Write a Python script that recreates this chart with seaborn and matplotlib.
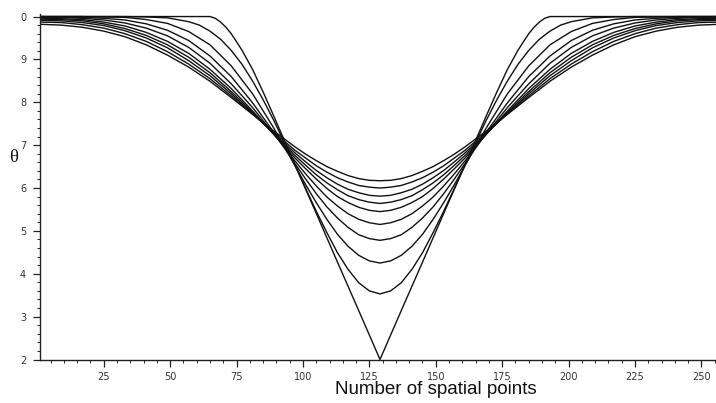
import matplotlib
matplotlib.use("Agg")
import matplotlib.pyplot as plt
import numpy as np
import pandas as pd
import seaborn as sns
from matplotlib.ticker import FixedLocator, MultipleLocator

# ---- profiles of theta along the spatial grid -------------------------------
# initial profile (flat at 10 with a V-shaped notch around point 129)
x_t0 = [1, 65, 67, 69, 71, 73, 77, 81, 85, 89, 97, 105, 113, 121, 129,
        137, 145, 153, 161, 169, 173, 177, 181, 185, 187, 189, 191, 193, 257]
theta_t0 = [10.0, 10.0, 9.96, 9.87, 9.75, 9.60, 9.22, 8.77, 8.24, 7.68, 6.54, 5.41, 4.27, 3.14, 2.00,
            3.14, 4.27, 5.41, 6.54, 7.68, 8.24, 8.77, 9.22, 9.60, 9.75, 9.87, 9.96, 10.0, 10.0]

# first smoothed profile
x_t1 = [1, 33, 41, 49, 57, 61, 65, 69, 73, 77, 81, 85, 89, 93, 97, 101, 105, 109, 113, 117,
        121, 125, 129, 133, 137, 141, 145, 149, 153, 157, 161, 165, 169, 173, 177, 181, 185,
        189, 193, 197, 201, 209, 217, 225, 257]
theta_t1 = [10.0, 10.0, 9.99, 9.97, 9.88, 9.80, 9.66, 9.47, 9.21, 8.89, 8.50, 8.06, 7.58, 7.06,
            6.53, 5.99, 5.46, 4.96, 4.49, 4.10, 3.79, 3.60, 3.53, 3.60, 3.79, 4.10, 4.49, 4.96,
            5.46, 5.99, 6.53, 7.06, 7.58, 8.06, 8.50, 8.89, 9.21, 9.47, 9.66, 9.80, 9.88, 9.97,
            9.99, 10.0, 10.0]

# later profiles share one grid (denser around the minimum)
x_grid = [1, 9, 17, 25, 33, 41, 49, 57, 65, 73, 81, 89, 97,
          101, 105, 109, 113, 117, 121, 125, 129,
          133, 137, 141, 145, 149, 153, 157, 161,
          169, 177, 185, 193, 201, 209, 217, 225, 233, 241, 249, 257]

theta_t2 = [10.0, 10.0, 10.0, 9.99, 9.98, 9.93, 9.84, 9.65, 9.34, 8.85, 8.20, 7.40, 6.52,
            6.08, 5.66, 5.27, 4.92, 4.64, 4.43, 4.30, 4.25,
            4.30, 4.43, 4.64, 4.92, 5.27, 5.66, 6.08, 6.52,
            7.40, 8.20, 8.85, 9.34, 9.65, 9.84, 9.93, 9.98, 9.99, 10.0, 10.0, 10.0]
theta_t3 = [10.0, 9.99, 9.98, 9.96, 9.92, 9.83, 9.68, 9.44, 9.08, 8.60, 7.99, 7.30, 6.57,
            6.21, 5.87, 5.56, 5.30, 5.08, 4.91, 4.82, 4.78,
            4.82, 4.91, 5.08, 5.30, 5.56, 5.87, 6.21, 6.57,
            7.30, 7.99, 8.60, 9.08, 9.44, 9.68, 9.83, 9.92, 9.96, 9.98, 9.99, 10.0]
theta_t4 = [9.98, 9.98, 9.96, 9.92, 9.85, 9.73, 9.55, 9.28, 8.91, 8.43, 7.88, 7.26, 6.63,
            6.33, 6.05, 5.79, 5.58, 5.40, 5.27, 5.19, 5.15,
            5.19, 5.27, 5.40, 5.58, 5.79, 6.05, 6.33, 6.63,
            7.26, 7.88, 8.43, 8.91, 9.28, 9.55, 9.73, 9.85, 9.92, 9.96, 9.98, 9.98]
theta_t5 = [9.96, 9.95, 9.93, 9.87, 9.78, 9.63, 9.42, 9.14, 8.77, 8.32, 7.80, 7.25, 6.70,
            6.45, 6.21, 5.99, 5.80, 5.66, 5.55, 5.48, 5.45,
            5.48, 5.55, 5.66, 5.80, 5.99, 6.21, 6.45, 6.70,
            7.25, 7.80, 8.32, 8.77, 9.14, 9.42, 9.63, 9.78, 9.87, 9.93, 9.95, 9.96]
theta_t6 = [9.94, 9.93, 9.90, 9.83, 9.72, 9.56, 9.34, 9.05, 8.69, 8.25, 7.77, 7.26, 6.76,
            6.53, 6.31, 6.12, 5.96, 5.82, 5.73, 5.67, 5.64,
            5.67, 5.73, 5.82, 5.96, 6.12, 6.31, 6.53, 6.76,
            7.26, 7.77, 8.25, 8.69, 9.05, 9.34, 9.56, 9.72, 9.83, 9.90, 9.93, 9.94]
theta_t7 = [9.91, 9.90, 9.86, 9.79, 9.67, 9.50, 9.27, 8.97, 8.62, 8.20, 7.74, 7.27, 6.82,
            6.61, 6.41, 6.24, 6.09, 5.97, 5.89, 5.83, 5.81,
            5.83, 5.89, 5.97, 6.09, 6.24, 6.41, 6.61, 6.82,
            7.27, 7.74, 8.20, 8.62, 8.97, 9.27, 9.50, 9.67, 9.79, 9.86, 9.90, 9.91]
theta_t8 = [9.87, 9.86, 9.81, 9.73, 9.60, 9.42, 9.18, 8.89, 8.55, 8.15, 7.73, 7.30, 6.88,
            6.70, 6.52, 6.37, 6.24, 6.14, 6.06, 6.02, 6.00,
            6.02, 6.06, 6.14, 6.24, 6.37, 6.52, 6.70, 6.88,
            7.30, 7.73, 8.15, 8.55, 8.89, 9.18, 9.42, 9.60, 9.73, 9.81, 9.86, 9.87]
theta_t9 = [9.82, 9.80, 9.75, 9.66, 9.53, 9.34, 9.10, 8.82, 8.49, 8.11, 7.72, 7.33, 6.96,
            6.79, 6.64, 6.50, 6.39, 6.29, 6.22, 6.18, 6.17,
            6.18, 6.22, 6.29, 6.39, 6.50, 6.64, 6.79, 6.96,
            7.33, 7.72, 8.11, 8.49, 8.82, 9.10, 9.34, 9.53, 9.66, 9.75, 9.80, 9.82]

y_ticks = [2, 3, 4, 5, 6, 7, 8, 9, 10]
y_tick_labels = ["2", "3", "4", "5", "6", "7", "8", "9", "0"]
x_ticks = [25, 50, 75, 100, 125, 150, 175, 200, 225, 250]
x_tick_labels = ["25", "50", "75", "100", "125", "150", "175", "200", "225", "250"]

# ---- long-form table --------------------------------------------------------
frames = [pd.DataFrame({"x": x_t0, "theta": theta_t0, "step": 0}),
          pd.DataFrame({"x": x_t1, "theta": theta_t1, "step": 1})]
for k, th in enumerate([theta_t2, theta_t3, theta_t4, theta_t5,
                        theta_t6, theta_t7, theta_t8, theta_t9], start=2):
    frames.append(pd.DataFrame({"x": x_grid, "theta": th, "step": k}))
df = pd.concat(frames, ignore_index=True)

# ---- figure -----------------------------------------------------------------
sns.set_style("ticks")
plt.rcParams["font.family"] = ["DejaVu Sans"]

W, H = 716, 403
fig = plt.figure(figsize=(W / 100, H / 100), dpi=100)
ax = fig.add_axes([40 / W, 43.5 / H, (W - 40) / W, (359.5 - 14.4) / H])

n_steps = df["step"].nunique()
sns.lineplot(data=df, x="x", y="theta", hue="step", units="step", estimator=None,
             palette=["#111111"] * n_steps, legend=False, linewidth=1.0, ax=ax)

ax.set_xlim(1, 255.5)
ax.set_ylim(2, 10.05)

for side in ("top", "right"):
    ax.spines[side].set_visible(False)
for side in ("left", "bottom"):
    ax.spines[side].set_color("#222222")
    ax.spines[side].set_linewidth(1.0)

ax.xaxis.set_major_locator(FixedLocator(x_ticks))
ax.set_xticklabels(x_tick_labels)
ax.xaxis.set_minor_locator(MultipleLocator(5))
ax.yaxis.set_major_locator(FixedLocator(y_ticks))
ax.set_yticklabels(y_tick_labels)
ax.yaxis.set_minor_locator(MultipleLocator(0.2))

ax.tick_params(axis="both", which="major", direction="out", length=5, width=0.9,
               color="#222222", labelsize=7, labelcolor="#333333")
ax.tick_params(axis="both", which="minor", direction="out", length=2.5, width=0.7,
               color="#222222")
ax.tick_params(axis="y", which="major", pad=5)
ax.tick_params(axis="x", which="major", pad=4)

ax.set_xlabel("")
ax.set_ylabel("")
fig.text(436 / W, 1 - 390 / H, "Number of spatial points", ha="center", va="center",
         fontsize=13.5, family=["Liberation Sans", "DejaVu Sans"], color="#111111")
fig.text(14 / W, 1 - 157 / H, "θ", ha="center", va="center",
         fontsize=13.5, family=["Liberation Serif", "DejaVu Serif"], color="#111111")

fig.savefig("out.png", dpi=100, facecolor="white")
